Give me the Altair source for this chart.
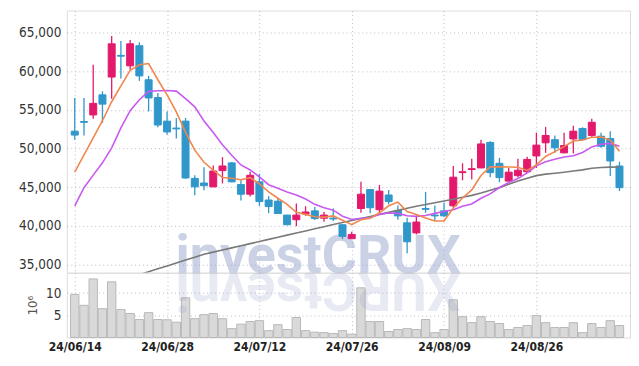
import json
import altair as alt
import pandas as pd

# ---------------- data ----------------
dates = [
    "24/06/14", "24/06/17", "24/06/18", "24/06/19", "24/06/20", "24/06/21",
    "24/06/24", "24/06/25", "24/06/26", "24/06/27", "24/06/28",
    "24/07/01", "24/07/02", "24/07/03", "24/07/04", "24/07/05",
    "24/07/08", "24/07/09", "24/07/10", "24/07/11", "24/07/12",
    "24/07/15", "24/07/16", "24/07/17", "24/07/18", "24/07/19",
    "24/07/22", "24/07/23", "24/07/24", "24/07/25", "24/07/26",
    "24/07/29", "24/07/30", "24/07/31", "24/08/01", "24/08/02",
    "24/08/05", "24/08/06", "24/08/07", "24/08/08", "24/08/09",
    "24/08/12", "24/08/13", "24/08/14", "24/08/16",
    "24/08/19", "24/08/20", "24/08/21", "24/08/22", "24/08/23",
    "24/08/26", "24/08/27", "24/08/28", "24/08/29", "24/08/30",
    "24/09/02", "24/09/03", "24/09/04", "24/09/05", "24/09/06",
]
opens = [52250, 53500, 54350, 56950, 59250, 62050, 60700, 63300, 58900, 56600,
         53550, 52650, 53550, 46150, 45550, 45050, 47150, 48150, 45350, 44100,
         45700, 43350, 43200, 41400, 40800, 41550, 41950, 41000, 41000, 40150,
         38350, 42250, 44700, 42100, 44000, 42000, 40400, 39100, 42250, 41400,
         41950, 42600, 46900, 47300, 47500, 50800, 48100, 45800, 46500, 47000,
         49050, 50750, 51150, 49450, 51250, 52600, 51700, 51600, 51300, 47750]
highs = [56550, 56550, 60850, 57400, 64550, 63900, 64050, 63750, 59400, 57200,
         54800, 53950, 53950, 46550, 47600, 47800, 48900, 48250, 45900, 47000,
         46750, 43850, 43600, 41450, 42900, 42550, 42450, 41800, 42250, 40200,
         39250, 45700, 44750, 45300, 44650, 42650, 41050, 41350, 44400, 42650,
         43000, 47750, 48100, 48700, 51150, 50950, 48800, 47500, 48700, 48950,
         52050, 52800, 51700, 52050, 52950, 52750, 53850, 52050, 52250, 48300]
lows = [51150, 51700, 53850, 53300, 56450, 59050, 60200, 58750, 54800, 52750,
        51800, 51300, 46100, 43950, 44600, 45000, 45500, 45650, 43300, 43800,
        42600, 41650, 41550, 40100, 39950, 41300, 40750, 40550, 40650, 38300,
        38300, 41700, 41650, 41700, 42800, 40800, 36450, 38900, 41700, 40650,
        41150, 42350, 45900, 46000, 47450, 46300, 45650, 45750, 46250, 46850,
        47500, 49450, 49450, 49400, 49350, 51100, 51450, 50100, 46450, 44500]
closes = [51750, 53400, 55850, 55750, 63550, 61950, 63550, 59400, 56550, 53050,
          52150, 52550, 46200, 45050, 45200, 47100, 47750, 45700, 44100, 46550,
          43150, 42500, 41600, 40150, 41400, 41800, 40950, 41400, 40900, 38650,
          38900, 44100, 42350, 44500, 43150, 41300, 37950, 40500, 42150, 41300,
          41300, 46300, 47000, 47400, 50600, 46900, 46250, 46950, 47200, 48600,
          50450, 51700, 50100, 50400, 52250, 51150, 53400, 50300, 48400, 44950]
ma5 = [46950, 49200, 51400, 53600, 56060, 58100, 60130, 60840, 61000, 58900,
       56940, 54740, 52100, 49800, 48230, 47220, 46260, 46160, 45970, 46240,
       45450, 44400, 43580, 42790, 41760, 41490, 41180, 41140, 41290, 40740,
       40160, 40790, 40980, 41700, 42600, 43080, 41850, 41480, 41010, 40640,
       40640, 42310, 43610, 44660, 46520, 47640, 47630, 47620, 47580, 47180,
       47890, 48980, 49610, 50250, 50980, 51120, 51460, 51500, 51100, 49640]
ma10 = [42580, 44940, 46570, 48160, 50090, 52670, 54900, 56320, 57400, 57480,
        57520, 57435, 56470, 55400, 53565, 52080, 50500, 49130, 47885, 47235,
        46335, 45330, 44870, 44380, 44000, 43470, 42790, 42360, 42040, 41250,
        40825, 40985, 41060, 41495, 41670, 41620, 41320, 41230, 41355, 41620,
        41860, 42080, 42545, 42835, 43580, 44140, 44970, 45615, 46120, 46850,
        47765, 48305, 48615, 48915, 49080, 49505, 50220, 50555, 50675, 50310]
ma60 = [31070, 31450, 31820, 32200, 32570, 32950, 33320, 33700, 34080, 34450,
        34830, 35210, 35580, 35960, 36340, 36610, 36890, 37160, 37430, 37710,
        37980, 38260, 38530, 38810, 39080, 39350, 39630, 39900, 40180, 40450,
        40700, 40960, 41230, 41490, 41750, 42010, 42280, 42540, 42770, 43000,
        43230, 43450, 43700, 43950, 44250, 44600, 44950, 45400, 45800, 46150,
        46500, 46700, 46820, 46950, 47100, 47250, 47450, 47550, 47600, 47620]
volume_m = [9.7, 7.25, 13.2, 6.5, 12.55, 6.3, 5.4, 4.05, 5.6, 4.05,
            4.0, 3.45, 8.95, 4.25, 5.15, 5.4, 4.25, 2.0, 3.0, 3.6,
            3.8, 1.55, 2.9, 1.8, 4.5, 1.55, 1.2, 1.1, 0.9, 1.55,
            0.75, 11.2, 3.6, 3.6, 1.35, 1.8, 2.0, 1.8, 4.05, 1.1,
            1.8, 8.5, 4.7, 3.35, 4.7, 3.6, 3.15, 1.8, 2.25, 2.7,
            4.95, 3.35, 2.25, 2.25, 3.35, 1.1, 3.15, 2.25, 3.8, 2.7]
x_tick_idx = [0, 10, 20, 30, 40, 50]
price_ticks = [35000, 40000, 45000, 50000, 55000, 60000, 65000]
vol_ticks = [5, 10]
watermark = "investCRUX"

# ---------------- styling ----------------
RED = "#e3196b"
BLUE = "#2f97c9"
FONT = "Liberation Sans Narrow, DejaVu Sans Condensed, Roboto"
GRID = "#b9bdd0"
W = 565
H_PRICE = 263
H_VOL = 65

df = pd.DataFrame({
    "i": list(range(len(dates))), "date": dates,
    "open": opens, "high": highs, "low": lows, "close": closes,
    "ma5": ma5, "ma10": ma10, "ma60": ma60, "vol": volume_m,
})
df["dir"] = ["up" if c >= o else "down" for o, c in zip(opens, closes)]

xscale = alt.Scale(domain=[-0.32, 59.6], nice=False, zero=False)
pscale = alt.Scale(domain=[33950, 67850], nice=False, zero=False)
color = alt.Color("dir:N", scale=alt.Scale(domain=["up", "down"], range=[RED, BLUE]), legend=None)

x_price_axis = alt.Axis(values=x_tick_idx, labels=False, ticks=False, domain=False,
                        grid=True, gridColor=GRID, gridDash=[1, 3], title=None)
y_price_axis = alt.Axis(values=price_ticks, format=",.0f", labelFont=FONT, labelFontSize=13.5,
                        labelColor="#333333", labelPadding=6, ticks=False, domain=False,
                        grid=True, gridColor=GRID, gridDash=[1, 3], title=None, labelFlush=False)

base = alt.Chart(df)

wicks = base.mark_rule(strokeWidth=1.3).encode(
    x=alt.X("i:Q", scale=xscale, axis=x_price_axis),
    y=alt.Y("low:Q", scale=pscale, axis=y_price_axis),
    y2="high:Q",
    color=color,
)
bodies = base.mark_bar(size=7, strokeWidth=1).encode(
    x="i:Q", y="open:Q", y2="close:Q", color=color, stroke=color,
)
line_ma60 = base.mark_line(color="#7a7a7a", strokeWidth=1.6, clip=True).encode(x="i:Q", y="ma60:Q")
line_ma10 = base.mark_line(color="#c85af0", strokeWidth=1.6, clip=True).encode(x="i:Q", y="ma10:Q")
line_ma5 = base.mark_line(color="#f0874f", strokeWidth=1.6, clip=True).encode(x="i:Q", y="ma5:Q")

wm = alt.Chart(pd.DataFrame({"t": [watermark]})).mark_text(
    font="Roboto", fontSize=54, fontWeight="bold", color="#8f9cc8", opacity=0.45,
    align="left", baseline="alphabetic",
).encode(text="t:N", x=alt.value(109), y=alt.value(H_PRICE))

price = alt.layer(wm, wicks, bodies, line_ma60, line_ma10, line_ma5).properties(
    width=W, height=H_PRICE)

label_expr = json.dumps(dates) + "[datum.value]"
vol_bars = alt.Chart(df).mark_bar(size=8.4, color="#d9d9d9", stroke="#b9b9b9", strokeWidth=1).encode(
    x=alt.X("i:Q", scale=xscale,
            axis=alt.Axis(values=x_tick_idx, labelExpr=label_expr, labelFont=FONT,
                          labelFontSize=12, labelColor="#222222", labelFontWeight="bold",
                          labelFlush=False, labelPadding=4, ticks=False, domain=False,
                          grid=True, gridColor=GRID, gridDash=[1, 3], title=None)),
    y=alt.Y("vol:Q", scale=alt.Scale(domain=[0, 14.6], nice=False),
            axis=alt.Axis(values=vol_ticks, labelFont=FONT, labelFontSize=13.5,
                          labelColor="#333333", labelPadding=6, ticks=False, domain=False,
                          grid=True, gridColor=GRID, gridDash=[1, 3], title="10\u2076",
                          titleFont=FONT, titleFontSize=13, titleFontWeight="normal",
                          titleColor="#555555", titlePadding=6, labelFlush=False)),
)
wm_reflect = alt.Chart(pd.DataFrame({"t": [watermark[::-1]]})).mark_text(
    font="Roboto", fontSize=54, fontWeight="bold", color="#8f9cc8", opacity=0.2,
    align="right", baseline="alphabetic", angle=180,
).encode(text="t:N", x=alt.value(109), y=alt.value(0))

volume = alt.layer(vol_bars, wm_reflect).properties(width=W, height=H_VOL)

chart = alt.vconcat(price, volume, spacing=0, bounds="flush").properties(
    padding={"left": 10, "top": 1, "right": 0, "bottom": 0}
).configure_view(stroke="#cccccc", strokeWidth=1).configure(background="white")

chart.save("out.html", embed_options={"renderer": "svg", "actions": False})
